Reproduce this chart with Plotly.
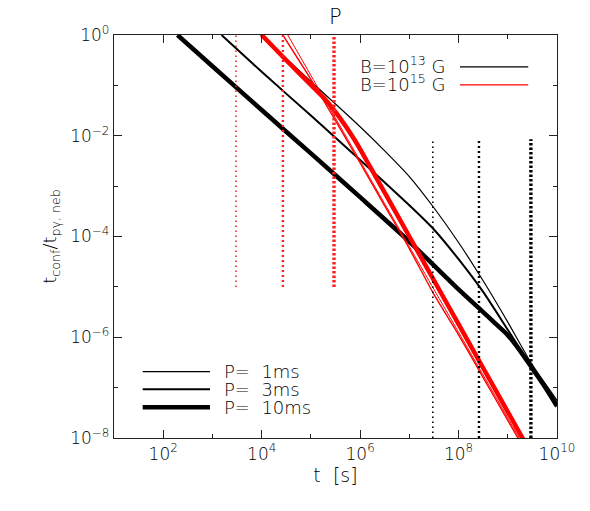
import numpy as np
import plotly.graph_objects as go

# ------------------------------------------
# DATA  (t in s)
# ------------------------------------------
# B = 1e13 G (black)
T_B13_1MS = [9.55e3, 3.16e4, 1e5, 3.16e5, 1e6, 3.16e6, 1e7, 3.16e7, 1e8, 3.16e8, 1e9, 3.16e9, 1e10]
R_B13_1MS = [1.0, 0.339, 0.120, 0.0427, 0.0151, 5.01e-3, 1.55e-3, 3.72e-4, 7.59e-5, 1.32e-5, 2.0e-6, 2.82e-7, 5.62e-8]

T_B13_3MS = [1.53e3, 1e4, 1e5, 1e6, 1e7, 3.16e7, 1e8, 3.16e8, 1e9, 3.16e9, 1e10]
R_B13_3MS = [1.0, 0.186, 0.0251, 3.31e-3, 4.17e-4, 1.38e-4, 3.55e-5, 7.94e-6, 1.41e-6, 2.51e-7, 5.01e-8]

T_B13_10MS = [195, 1e3, 1e4, 1e5, 1e6, 1e7, 1e8, 3.16e8, 5.62e8, 1e9, 1.78e9, 3.16e9, 5.62e9, 1e10]
R_B13_10MS = [1.0, 0.24, 0.0324, 4.47e-3, 6.03e-4, 7.94e-5, 8.91e-6, 3.16e-6, 1.86e-6, 1.10e-6, 5.37e-7, 2.40e-7, 1.05e-7, 4.27e-8]

# B = 1e15 G (red)
T_B15_1MS = [3.39e4, 1e5, 3.16e5, 1e6, 3.16e6, 1e7, 3.16e7, 1e8, 3.16e8, 1e9, 3.16e9]
R_B15_1MS = [1.0, 0.158, 0.0224, 3.16e-3, 4.47e-4, 6.31e-5, 8.91e-6, 1.26e-6, 1.78e-7, 2.51e-8, 3.55e-9]

T_B15_3MS = [2.69e4, 1e5, 3.16e5, 1e6, 3.16e6, 1e7, 3.16e7, 1e8, 3.16e8, 1e9, 3.16e9]
R_B15_3MS = [1.0, 0.132, 0.0200, 2.88e-3, 4.07e-4, 5.75e-5, 7.08e-6, 1.12e-6, 1.58e-7, 2.24e-8, 3.16e-9]

T_B15_10MS = [1e4, 3.16e4, 1e5, 2.0e5, 3.98e5, 7.94e5, 1.58e6, 3.16e6, 1e7, 3.16e7, 1e8, 3.16e8, 1e9, 3.16e9]
R_B15_10MS = [1.0, 0.316, 0.102, 0.0513, 0.0219, 7.94e-3, 2.46e-3, 7.41e-4, 1.0e-4, 1.35e-5, 1.82e-6, 2.45e-7, 3.31e-8, 4.47e-9]

# vertical dotted markers
RED_DOT_T = [3.0e3, 2.7e4, 2.95e5]
RED_DOT_R = [1e-5, 1.0]
BLACK_DOT_T = [3.0e7, 2.6e8, 2.95e9]
BLACK_DOT_R = [1e-8, 8.5e-3]

# axis ticks
X_TICKS = [1e2, 1e4, 1e6, 1e8, 1e10]
X_TICK_TEXT = ["10<sup>2</sup>", "10<sup>4</sup>", "10<sup>6</sup>", "10<sup>8</sup>", "10<sup>10</sup>"]
X_MINOR = [1e1, 1e3, 1e5, 1e7, 1e9]
Y_TICKS = [1e0, 1e-2, 1e-4, 1e-6, 1e-8]
Y_TICK_TEXT = ["10<sup>0</sup>", "10<sup>−2</sup>", "10<sup>−4</sup>", "10<sup>−6</sup>", "10<sup>−8</sup>"]
Y_MINOR = [1e-1, 1e-3, 1e-5, 1e-7]

P_LABELS = ["P=  1ms", "P=  3ms", "P=  10ms"]
B_LABELS = ["B=10<sup>13</sup> G", "B=10<sup>15</sup> G"]

# ------------------------------------------
# STYLE
# ------------------------------------------
FONT = "DejaVu Sans Light, DejaVu Sans"
TXT = "#000000"
WIDTHS = [1.2, 2.0, 4.5]
RED_WIDTHS = [1.0, 1.4, 4.5]
DOT_WIDTHS = [1.6, 2.4, 3.4]
DOT_DASH = ["1.5px,3.5px", "2px,3px", "2.5px,2px"]

fig = go.Figure()

for (t, r), w in zip([(T_B13_1MS, R_B13_1MS), (T_B13_3MS, R_B13_3MS), (T_B13_10MS, R_B13_10MS)], WIDTHS):
    fig.add_trace(go.Scatter(x=t, y=r, mode="lines", line=dict(color="black", width=w, shape="spline", smoothing=0.6),
                             showlegend=False, hoverinfo="skip"))

for (t, r), w in zip([(T_B15_1MS, R_B15_1MS), (T_B15_3MS, R_B15_3MS), (T_B15_10MS, R_B15_10MS)], RED_WIDTHS):
    fig.add_trace(go.Scatter(x=t, y=r, mode="lines", line=dict(color="#ff0000", width=w, shape="spline", smoothing=0.6),
                             showlegend=False, hoverinfo="skip"))

for i, tv in enumerate(RED_DOT_T):
    fig.add_trace(go.Scatter(x=[tv, tv], y=RED_DOT_R, mode="lines",
                             line=dict(color="#ff2020", width=DOT_WIDTHS[i], dash=DOT_DASH[i]),
                             showlegend=False, hoverinfo="skip"))
for i, tv in enumerate(BLACK_DOT_T):
    fig.add_trace(go.Scatter(x=[tv, tv], y=BLACK_DOT_R, mode="lines",
                             line=dict(color="black", width=DOT_WIDTHS[i], dash=DOT_DASH[i]),
                             showlegend=False, hoverinfo="skip"))

# legend samples (paper coords)
for lbl, col, y in zip(B_LABELS, ["black", "#ff0000"], [0.921, 0.876]):
    fig.add_shape(type="line", xref="paper", yref="paper", x0=0.781, x1=0.935, y0=y, y1=y,
                  line=dict(color=col, width=1.3))
    fig.add_annotation(text=lbl, xref="paper", yref="paper", x=0.551, y=y + 0.004, xanchor="left",
                       yanchor="middle", showarrow=False, font=dict(family=FONT, size=18, color=TXT))

for lbl, w, y in zip(P_LABELS, WIDTHS, [0.1645, 0.1208, 0.0762]):
    fig.add_shape(type="line", xref="paper", yref="paper", x0=0.0648, x1=0.2167, y0=y, y1=y,
                  line=dict(color="black", width=w))
    fig.add_annotation(text=lbl, xref="paper", yref="paper", x=0.243, y=y, xanchor="left",
                       yanchor="middle", showarrow=False, font=dict(family=FONT, size=18, color=TXT))

fig.add_annotation(text="P", xref="paper", yref="paper", x=0.5, y=1.045, xanchor="center",
                   yanchor="middle", showarrow=False, font=dict(family=FONT, size=21, color=TXT))

axis_common = dict(
    type="log", showgrid=False, zeroline=False, showline=True, linecolor="#222", linewidth=1.3,
    mirror="ticks", ticks="inside", ticklen=8, tickwidth=1.3, tickcolor="#222",
    tickmode="array", automargin=False,
    tickfont=dict(family=FONT, size=17, color=TXT),
)
minor_common = dict(ticks="inside", tickmode="array", ticklen=4, tickwidth=1.3, tickcolor="#222")

# the page body adds an 8 px offset, so the figure is 8 px smaller and the margins shifted
fig.update_layout(
    width=582, height=503,
    margin=dict(l=106, r=33, t=27, b=73),
    plot_bgcolor="white", paper_bgcolor="white",
    font=dict(family=FONT, color=TXT),
    xaxis=dict(axis_common, range=[1, 10], tickvals=X_TICKS, ticktext=X_TICK_TEXT,
               minor=dict(minor_common, tickvals=X_MINOR),
               title=dict(text="t  [s]", font=dict(family=FONT, size=19, color=TXT), standoff=6)),
    yaxis=dict(axis_common, range=[-8, 0], tickvals=Y_TICKS, ticktext=Y_TICK_TEXT,
               minor=dict(minor_common, tickvals=Y_MINOR),
               title=dict(text="t<sub>conf</sub>/t<sub>pγ, neb</sub>", font=dict(family=FONT, size=18, color=TXT),
                          standoff=8)),
)

fig.write_html("out.html")
